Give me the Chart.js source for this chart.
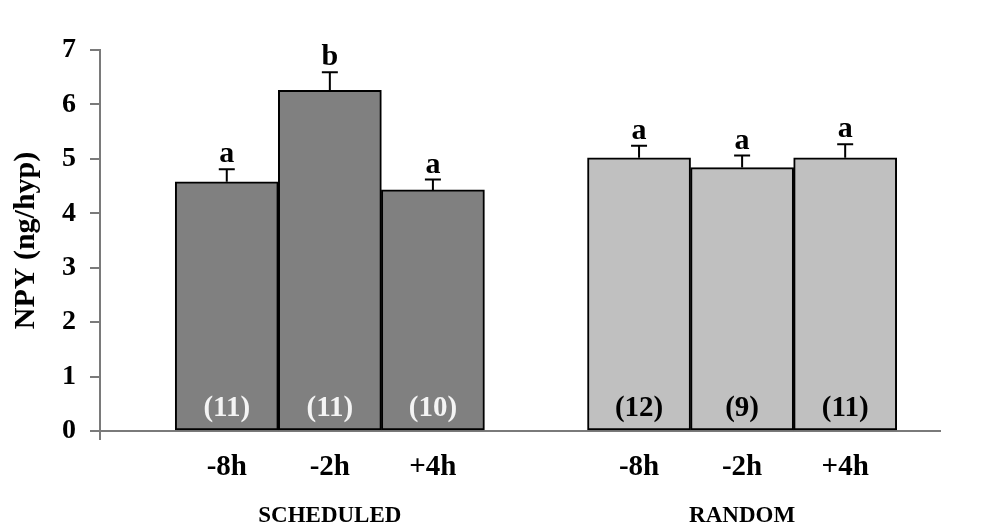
<!DOCTYPE html>
<html>
<head>
<meta charset="utf-8">
<script src="https://cdn.jsdelivr.net/npm/chart.js@4"></script>
<style>
    html, body { margin: 0; padding: 0; background: #fff; }
    #wrap { width: 991px; height: 530px; }
</style>
</head>
<body>
<div id="wrap"><canvas id="chart" width="991" height="530"></canvas></div>
<script>
const timepoints = ["-8h", "-2h", "+4h"];
const groups = ["SCHEDULED", "RANDOM"];

const scheduledMean = [4.58, 6.26, 4.43];
const scheduledSem = [0.23, 0.33, 0.19];
const scheduledLetters = ["a", "b", "a"];
const scheduledN = [11, 11, 10];

const randomMean = [5.02, 4.84, 5.02];
const randomSem = [0.22, 0.22, 0.25];
const randomLetters = ["a", "a", "a"];
const randomN = [12, 9, 11];

const yTicks = [0, 1, 2, 3, 4, 5, 6, 7];

(() => {
    const FONT = "'Liberation Serif', 'Times New Roman', serif";
    const X_MIN = -0.23;
    const X_MAX = 7.92;
    // each group sits on slots 1..3, then a 1-slot gap
    const slot = (g, i) => g * 4 + i + 1;

    const tickLabel = new Map();
    timepoints.forEach((t, i) => {
        tickLabel.set(slot(0, i), t);
        tickLabel.set(slot(1, i), t);
    });
    const groupLabel = new Map();
    groups.forEach((g, gi) => groupLabel.set(slot(gi, 1), g));

    const series = [
        { mean: scheduledMean, sem: scheduledSem, letters: scheduledLetters, n: scheduledN, nColor: "#f4f4f4" },
        { mean: randomMean, sem: randomSem, letters: randomLetters, n: randomN, nColor: "#000" },
    ];

    const annotations = {
        id: "annotations",
        afterDatasetsDraw(chart) {
            const { ctx, scales } = chart;
            const x = scales.x;
            const y = scales.y;
            ctx.save();
            series.forEach((s, gi) => {
                s.mean.forEach((m, i) => {
                    const px = x.getPixelForValue(slot(gi, i));
                    const yBar = y.getPixelForValue(m);
                    const yTop = y.getPixelForValue(m + s.sem[i]);

                    // upper error bar + cap
                    ctx.strokeStyle = "#000";
                    ctx.lineWidth = 2;
                    ctx.beginPath();
                    ctx.moveTo(px, yBar);
                    ctx.lineTo(px, yTop);
                    ctx.moveTo(px - 8, yTop);
                    ctx.lineTo(px + 8, yTop);
                    ctx.stroke();

                    // significance letter
                    ctx.fillStyle = "#000";
                    ctx.font = "bold 30px " + FONT;
                    ctx.textAlign = "center";
                    ctx.textBaseline = "alphabetic";
                    ctx.fillText(s.letters[i], px, yTop - 7);

                    // sample size
                    ctx.fillStyle = s.nColor;
                    ctx.font = "bold 29px " + FONT;
                    ctx.textBaseline = "middle";
                    ctx.fillText("(" + s.n[i] + ")", px, y.getPixelForValue(0) - 22);
                });
            });
            ctx.restore();
        },
    };

    const datasets = series.map((s, gi) => ({
        label: groups[gi],
        data: s.mean.map((m, i) => ({ x: slot(gi, i), y: m })),
        backgroundColor: gi === 0 ? "#808080" : "#c0c0c0",
        borderColor: "#000",
        borderWidth: 2,
        borderSkipped: false,
        grouped: false,
        barPercentage: 1,
        categoryPercentage: 1,
    }));

    const chart = new Chart(document.getElementById("chart"), {
        type: "bar",
        data: { datasets },
        plugins: [annotations],
        options: {
            responsive: false,
            animation: false,
            events: [],
            layout: { padding: { top: 50, right: 51, left: 0, bottom: 0 } },
            plugins: {
                legend: { display: false },
                tooltip: { enabled: false },
            },
            scales: {
                x: {
                    type: "linear",
                    position: "bottom",
                    offset: false,
                    min: X_MIN,
                    max: X_MAX,
                    weight: 0,
                    afterBuildTicks: (axis) => {
                        axis.ticks = [{ value: X_MIN }].concat([...tickLabel.keys()].map((v) => ({ value: v })));
                    },
                    afterFit: (axis) => {
                        axis.height = 58;
                    },
                    ticks: {
                        autoSkip: false,
                        maxRotation: 0,
                        padding: 10,
                        color: "#000",
                        font: { family: FONT, size: 29, weight: "bold" },
                        callback: (v) => tickLabel.get(v) || "",
                    },
                    grid: {
                        offset: false,
                        drawOnChartArea: false,
                        drawTicks: true,
                        tickLength: 9,
                        lineWidth: 2,
                        color: (c) => (c.tick && c.tick.value === X_MIN ? "#7a7a7a" : "rgba(0,0,0,0)"),
                    },
                    border: { display: true, color: "#7a7a7a", width: 2 },
                },
                x2: {
                    type: "linear",
                    position: "bottom",
                    offset: false,
                    min: X_MIN,
                    max: X_MAX,
                    weight: 1,
                    afterBuildTicks: (axis) => {
                        axis.ticks = [...groupLabel.keys()].map((v) => ({ value: v }));
                    },
                    afterFit: (axis) => {
                        axis.height = 41;
                    },
                    ticks: {
                        autoSkip: false,
                        maxRotation: 0,
                        padding: 5,
                        color: "#000",
                        font: { family: FONT, size: 23, weight: "bold" },
                        callback: (v) => groupLabel.get(v) || "",
                    },
                    grid: { display: false, offset: false },
                    border: { display: false },
                },
                y: {
                    min: 0,
                    max: 7,
                    afterBuildTicks: (axis) => {
                        axis.ticks = yTicks.map((v) => ({ value: v }));
                    },
                    afterFit: (axis) => {
                        axis.width = 100;
                    },
                    ticks: {
                        padding: 14,
                        color: "#000",
                        font: { family: FONT, size: 28, weight: "bold" },
                    },
                    grid: {
                        drawOnChartArea: false,
                        drawTicks: true,
                        tickLength: 10,
                        lineWidth: 2,
                        color: "#7a7a7a",
                    },
                    border: { display: true, color: "#7a7a7a", width: 2 },
                    title: {
                        display: true,
                        text: "NPY (ng/hyp)",
                        color: "#000",
                        padding: { top: 8, bottom: 0 },
                        font: { family: FONT, size: 30, weight: "bold" },
                    },
                },
            },
        },
    });
})();
</script>
</body>
</html>
